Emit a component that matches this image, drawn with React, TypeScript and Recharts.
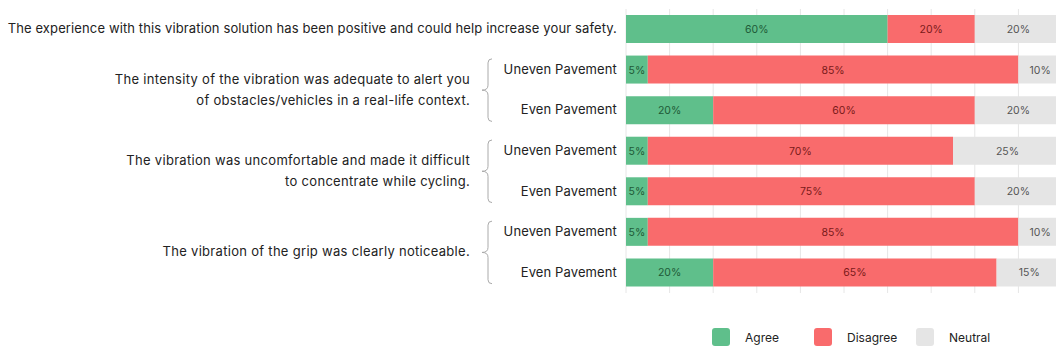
import React from 'react';
import { BarChart, Bar, XAxis, YAxis, CartesianGrid, Legend, LabelList } from 'recharts';

const rowIds = ['q1', 'q2u', 'q2e', 'q3u', 'q3e', 'q4u', 'q4e'];
const rowLabels = [
  'The experience with this vibration solution has been positive and could help increase your safety.',
  'Uneven Pavement',
  'Even Pavement',
  'Uneven Pavement',
  'Even Pavement',
  'Uneven Pavement',
  'Even Pavement',
];
// group labels attached to the first row of each pair
const groupLabels: (string[] | null)[] = [
  null,
  ['The intensity of the vibration was adequate to alert you', 'of obstacles/vehicles in a real-life context.'],
  null,
  ['The vibration was uncomfortable and made it difficult', 'to concentrate while cycling.'],
  null,
  ['The vibration of the grip was clearly noticeable.'],
  null,
];

const agree = [60, 5, 20, 5, 5, 5, 20];
const disagree = [20, 85, 60, 70, 75, 85, 65];
const neutral = [20, 10, 20, 25, 20, 10, 15];

const seriesNames = ['Agree', 'Disagree', 'Neutral'];
const xTicks = [0, 10, 20, 30, 40, 50, 60, 70, 80, 90, 100];

const data = rowIds.map((id, i) => ({
  id,
  agree: agree[i],
  disagree: disagree[i],
  neutral: neutral[i],
}));

const FONT = 'Inter, "Noto Sans", sans-serif';
const CHART_W = 1062;
const CHART_H = 352;
const MARGIN = { top: 9, right: 0, left: 0, bottom: 4 };
const LEGEND_H = 55;
const PLOT_H = CHART_H - MARGIN.top - MARGIN.bottom - LEGEND_H;
const PITCH = PLOT_H / rowIds.length;

const COLORS = { agree: '#5fbf8b', disagree: '#f96b6c', neutral: '#e5e5e5' };
const LABEL_COLORS = { agree: '#1e5a37', disagree: '#7a1a1a', neutral: '#555555' };

function YTick(props: any) {
  const { x, y, payload } = props;
  const i = rowIds.indexOf(payload.value);
  const group = groupLabels[i];
  const spine = x - 129;
  const top = y - 11;
  const bottom = y + PITCH + 11;
  const mid = y + PITCH / 2;
  return (
    <g>
      <text x={x} y={y} dy={4} textAnchor="end" fontSize={13} letterSpacing={0.12} fill="#222" fontFamily={FONT}>
        {rowLabels[i]}
      </text>
      {group && (
        <g>
          <path
            d={`M ${spine + 4} ${top} Q ${spine} ${top} ${spine} ${top + 4} L ${spine} ${mid - 5} Q ${spine} ${mid} ${spine - 6} ${mid} Q ${spine} ${mid} ${spine} ${mid + 5} L ${spine} ${bottom - 4} Q ${spine} ${bottom} ${spine + 4} ${bottom}`}
            fill="none"
            stroke="#aaaaaa"
            strokeWidth={1}
          />
          {group.map((line, k) => (
            <text
              key={k}
              x={x - 147}
              y={mid + (k - (group.length - 1) / 2) * 21}
              dy={4}
              textAnchor="end"
              fontSize={13}
              letterSpacing={0.3}
              fill="#222"
              fontFamily={FONT}
            >
              {line}
            </text>
          ))}
        </g>
      )}
    </g>
  );
}

function makeLabel(color: string) {
  return (props: any) => {
    const { x, y, width, height, value } = props;
    return (
      <text
        x={x + width / 2}
        y={y + height / 2}
        dy={4}
        textAnchor="middle"
        fontSize={10.5}
        fill={color}
        fontFamily={FONT}
      >
        {`${value}%`}
      </text>
    );
  };
}

function LegendContent(props: any) {
  const payload = props.payload || [];
  return (
    <div
      style={{
        height: LEGEND_H,
        display: 'flex',
        alignItems: 'flex-end',
        paddingLeft: 712,
        paddingBottom: 2,
        boxSizing: 'border-box',
        fontFamily: FONT,
        fontSize: 12,
        color: '#222',
      }}
    >
      {payload.map((p: any, k: number) => (
        <div key={k} style={{ display: 'flex', alignItems: 'center', width: 102, flex: 'none' }}>
          <div style={{ width: 18, height: 18, borderRadius: 3, background: p.color, flex: 'none' }} />
          <span style={{ marginLeft: 15, whiteSpace: 'nowrap' }}>{p.value}</span>
        </div>
      ))}
    </div>
  );
}

export default function App() {
  return (
    <div
      style={{
        position: 'absolute',
        left: 0,
        top: 0,
        width: 1056,
        height: 352,
        overflow: 'hidden',
        background: '#fff',
      }}
    >
      <BarChart width={CHART_W} height={CHART_H} data={data} layout="vertical" margin={MARGIN}>
        <CartesianGrid horizontal={false} stroke="#e6e6e6" />
        <XAxis type="number" domain={[0, 100]} ticks={xTicks} hide />
        <YAxis
          type="category"
          dataKey="id"
          width={626}
          tickLine={false}
          axisLine={false}
          tickMargin={3}
          interval={0}
          tick={<YTick />}
        />
        <Legend verticalAlign="bottom" height={LEGEND_H} content={<LegendContent />} />
        <Bar dataKey="agree" name={seriesNames[0]} stackId="a" fill={COLORS.agree} barSize={28} isAnimationActive={false}>
          <LabelList dataKey="agree" content={makeLabel(LABEL_COLORS.agree)} />
        </Bar>
        <Bar dataKey="disagree" name={seriesNames[1]} stackId="a" fill={COLORS.disagree} barSize={28} isAnimationActive={false}>
          <LabelList dataKey="disagree" content={makeLabel(LABEL_COLORS.disagree)} />
        </Bar>
        <Bar dataKey="neutral" name={seriesNames[2]} stackId="a" fill={COLORS.neutral} barSize={28} isAnimationActive={false}>
          <LabelList dataKey="neutral" content={makeLabel(LABEL_COLORS.neutral)} />
        </Bar>
      </BarChart>
    </div>
  );
}
